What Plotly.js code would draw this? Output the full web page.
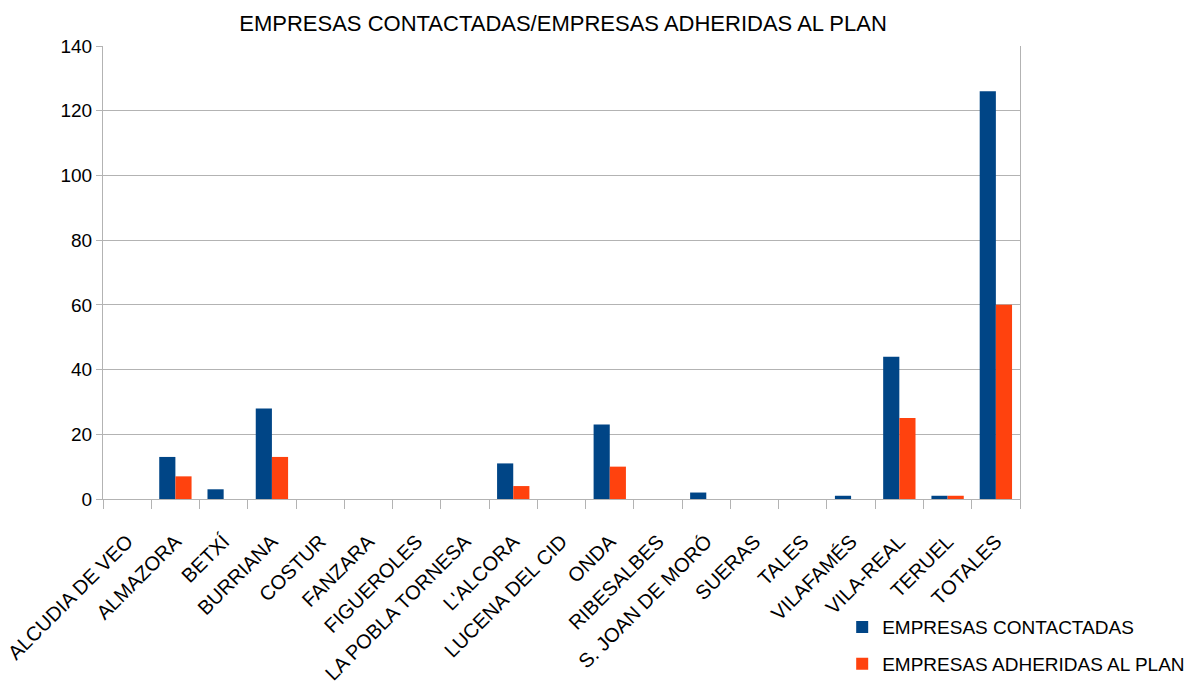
<!DOCTYPE html>
<html>
<head>
<meta charset="utf-8">
<script src="https://cdn.plot.ly/plotly-3.0.1.min.js"></script>
<style>html,body{margin:0;padding:0;background:#fff;}#chart{width:1198px;height:691px;}</style>
</head>
<body>
<div id="chart"></div>
<script>
const categories = ["ALCUDIA DE VEO","ALMAZORA","BETXÍ","BURRIANA","COSTUR","FANZARA","FIGUEROLES","LA POBLA TORNESA","L'ALCORA","LUCENA DEL CID","ONDA","RIBESALBES","S. JOAN DE MORÓ","SUERAS","TALES","VILAFAMÉS","VILA-REAL","TERUEL","TOTALES"];
const contactadas = [0,13,3,28,0,0,0,0,11,0,23,0,2,0,0,1,44,1,126];
const adheridas = [0,7,0,13,0,0,0,0,4,0,10,0,0,0,0,0,25,1,60];
const yTicks = [0,20,40,60,80,100,120,140];

const font = "Liberation Sans, Arial, sans-serif";
const data = [
  {type:"bar", name:"EMPRESAS CONTACTADAS", x:categories, y:contactadas, marker:{color:"#004586"}, legendgroup:"a"},
  {type:"bar", name:"EMPRESAS ADHERIDAS AL PLAN", x:categories, y:adheridas, marker:{color:"#ff420e"}, legendgroup:"b"}
];
const layout = {
  width:1198, height:691,
  margin:{l:103, r:178, t:46, b:192, autoexpand:false},
  paper_bgcolor:"#fff", plot_bgcolor:"#fff",
  title:{text:"EMPRESAS CONTACTADAS/EMPRESAS ADHERIDAS AL PLAN", font:{family:font, size:22, color:"#000"}, x:0.47, xanchor:"center", y:0.967, yanchor:"middle"},
  barmode:"group", bargap:0.33, bargroupgap:0,
  showlegend:true,
  legend:{xref:"container", yref:"container", x:0.703, y:0.12, xanchor:"left", yanchor:"top", font:{family:font, size:19, color:"#000"}, traceorder:"grouped", tracegroupgap:9, itemwidth:30},
  xaxis:{type:"category", tickangle:-45, tickson:"boundaries", ticks:"outside", ticklen:9, tickcolor:"#b3b3b3",
         ticklabelstandoff:22,
         showgrid:false, showline:true, linecolor:"#b3b3b3", linewidth:1,
         tickfont:{family:font, size:20, color:"#000"}, automargin:false},
  yaxis:{range:[0,140], tickvals:yTicks, ticks:"outside", ticklen:6, tickcolor:"#b3b3b3",
         showgrid:true, gridcolor:"#b3b3b3", showline:true, linecolor:"#b3b3b3", mirror:true, zeroline:false,
         tickfont:{family:font, size:19, color:"#000"}, automargin:false}
};
Plotly.newPlot("chart", data, layout, {displayModeBar:false, staticPlot:true});
</script>
</body>
</html>
